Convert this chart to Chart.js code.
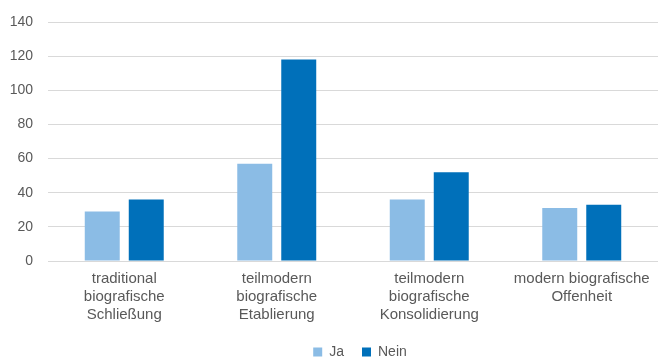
<!DOCTYPE html>
<html>
<head>
<meta charset="utf-8">
<script src="https://cdn.jsdelivr.net/npm/chart.js@4"></script>
<style>
  html, body { margin: 0; padding: 0; background: #fff; }
  #wrap { width: 659px; height: 359px; }
</style>
</head>
<body>
<div id="wrap"><canvas id="myChart" width="659" height="359"></canvas></div>
<script>
// categories (multi-line labels)
const categories = [
  ['traditional', 'biografische', 'Schließung'],
  ['teilmodern', 'biografische', 'Etablierung'],
  ['teilmodern', 'biografische', 'Konsolidierung'],
  ['modern biografische', 'Offenheit']
];
const jaValues = [29, 57, 36, 31];
const neinValues = [36, 118, 52, 33];
const yTicks = [0, 20, 40, 60, 80, 100, 120, 140];

const grey = '#595959';
Chart.defaults.font.family = '"Liberation Sans", Arial, sans-serif';
Chart.defaults.font.size = 14;
Chart.defaults.color = grey;

// nudge legend a bit to the right, like the original
const legendShift = {
  id: 'legendShift',
  afterLayout(chart) {
    if (chart.legend) { chart.legend.left += 7; chart.legend.right += 7; }
  }
};

const ctx = document.getElementById('myChart');
new Chart(ctx, {
  type: 'bar',
  data: {
    labels: categories,
    datasets: [
      { label: 'Ja', data: jaValues, backgroundColor: '#8BBCE5',
        categoryPercentage: 0.577, barPercentage: 0.795 },
      { label: 'Nein', data: neinValues, backgroundColor: '#0070BA',
        categoryPercentage: 0.577, barPercentage: 0.795 }
    ]
  },
  plugins: [legendShift],
  options: {
    responsive: false,
    animation: false,
    layout: { padding: { top: 0, right: 1, left: 0, bottom: -10 } },
    plugins: {
      tooltip: { enabled: false },
      legend: {
        position: 'bottom',
        fullSize: false,
        labels: { boxWidth: 9, boxHeight: 9, padding: 18, color: grey, font: { size: 14 } }
      }
    },
    scales: {
      x: {
        afterFit: s => { s.height = 66; },
        grid: { display: false, drawTicks: false },
        border: { display: false },
        ticks: { maxRotation: 0, autoSkip: false, padding: 9, color: grey, font: { size: 15, lineHeight: 1.2 } }
      },
      y: {
        min: 0, max: 140,
        afterFit: s => { s.width = 48; },
        afterBuildTicks: s => { s.ticks = yTicks.map(v => ({ value: v })); },
        grid: { color: '#d9d9d9', lineWidth: 1, drawTicks: false },
        border: { display: false },
        ticks: { padding: 15, color: grey, font: { size: 14, lineHeight: 1 } }
      }
    }
  }
});
</script>
</body>
</html>
